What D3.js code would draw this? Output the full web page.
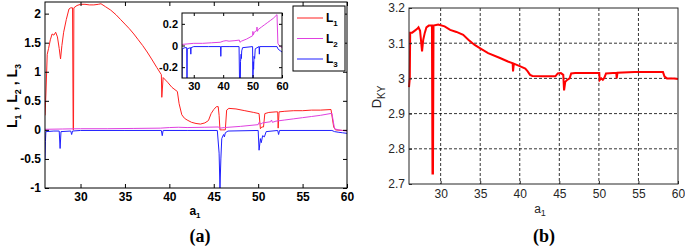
<!DOCTYPE html>
<html>
<head>
<meta charset="utf-8">
<script src="https://cdn.jsdelivr.net/npm/d3@7"></script>
<style>
  body { margin: 0; background: #fff; }
  svg { display: block; }
</style>
</head>
<body>
<svg id="chart" width="685" height="247"></svg>
<script>
// L1 (red)
const l1X = [26.0, 26.1, 26.25, 26.4, 26.6, 26.8, 27.0, 27.2, 27.4, 27.6, 27.75, 27.9, 28.1, 28.4, 28.7, 28.9, 29.1, 29.17, 29.21, 29.25, 29.6, 30.0, 30.5, 31.0, 31.5, 32.0, 32.3, 32.8, 33.4, 34.0, 34.5, 35.0, 35.5, 36.0, 36.5, 37.0, 37.5, 38.0, 38.6, 39.1, 39.15, 39.3, 39.8, 40.3, 40.9, 41.1, 41.4, 41.7, 42.0, 42.5, 43.0, 43.5, 44.0, 44.4, 44.7, 45.0, 45.3, 45.5, 45.6, 45.7, 46.0, 46.3, 46.45, 46.7, 47.5, 48.5, 49.5, 50.1, 50.25, 50.4, 50.6, 50.75, 51.2, 52.0, 52.2, 52.25, 52.35, 53.0, 54.0, 55.0, 56.0, 57.0, 58.2, 58.5, 58.7, 59.5, 60.0];
const l1Y = [0.25, 0.6, 1.3, 1.4, 1.55, 1.65, 1.63, 1.68, 1.6, 1.4, 1.22, 1.45, 1.68, 1.9, 2.08, 2.1, 2.1, 0.0, 0.0, 2.1, 2.14, 2.16, 2.16, 2.15, 2.15, 2.16, 2.17, 2.12, 2.06, 1.98, 1.9, 1.82, 1.74, 1.65, 1.55, 1.45, 1.34, 1.22, 1.07, 0.95, 0.56, 0.9, 0.82, 0.73, 0.66, 0.45, 0.26, 0.2, 0.17, 0.13, 0.11, 0.1, 0.12, 0.16, 0.28, 0.35, 0.4, 0.4, 0.25, 0.0, 0.0, 0.0, 0.34, 0.37, 0.36, 0.33, 0.3, 0.28, 0.02, 0.05, 0.05, 0.28, 0.3, 0.31, 0.31, 0.03, 0.31, 0.32, 0.33, 0.33, 0.34, 0.34, 0.35, 0.05, 0.0, -0.01, -0.01];

// L2 (magenta)
const l2X = [26.0, 28, 30, 33, 36, 39, 40, 41, 42, 44, 45.5, 45.7, 46.2, 48, 50.0, 50.1, 50.3, 50.5, 51.4, 51.5, 51.6, 52, 53, 54, 55, 56, 57, 58.3, 58.6, 59, 59.5, 60];
const l2Y = [0.01, 0.015, 0.02, 0.02, 0.025, 0.03, 0.04, 0.045, 0.04, 0.045, 0.05, 0.03, 0.04, 0.06, 0.09, 0.13, 0.1, 0.12, 0.14, 0.17, 0.13, 0.15, 0.17, 0.19, 0.21, 0.23, 0.25, 0.285, 0.02, 0.0, -0.01, -0.02];

// L3 (blue)
const l3X = [26.0, 26.05, 26.1, 27.0, 27.6, 27.7, 27.8, 28.9, 29.0, 29.1, 30, 35, 39.1, 39.2, 39.3, 42, 45.4, 45.6, 45.7, 45.8, 45.9, 46.1, 46.2, 46.3, 46.6, 50.0, 50.1, 50.25, 50.35, 50.5, 50.7, 50.9, 52.2, 52.3, 52.4, 58.3, 58.6, 59, 59.5, 60];
const l3Y = [-0.5, -0.2, -0.03, -0.02, -0.02, -0.32, -0.03, -0.02, -0.08, -0.02, -0.01, -0.01, -0.01, -0.1, -0.01, -0.01, -0.01, -0.4, -1.0, -0.5, -0.15, -0.08, -0.12, -0.05, -0.02, -0.01, -0.35, -0.15, -0.22, -0.1, -0.12, -0.03, -0.01, -0.08, -0.01, -0.01, -0.03, -0.04, -0.05, -0.06];

// D_KY (panel b)
const dkyX = [26.0, 26.1, 26.15, 26.4, 26.7, 27.0, 27.2, 27.4, 27.55, 27.65, 27.8, 28.0, 28.2, 28.5, 28.9, 28.97, 29.03, 29.1, 29.7, 30.5, 31.2, 32.0, 32.85, 33.5, 34.3, 34.95, 36, 37.5, 38.5, 39.1, 39.15, 39.25, 40.0, 40.7, 41.0, 41.3, 41.6, 43, 44.5, 44.8, 45.2, 45.5, 45.6, 45.75, 46.0, 46.3, 46.5, 47, 50.05, 50.1, 50.3, 50.5, 50.7, 50.9, 52.2, 52.25, 52.35, 54.5, 58.1, 58.3, 58.6, 59.5, 60];
const dkyY = [2.975, 3.0, 3.13, 3.13, 3.135, 3.14, 3.145, 3.135, 3.1, 3.077, 3.11, 3.13, 3.145, 3.15, 3.15, 2.73, 2.73, 3.15, 3.153, 3.148, 3.138, 3.132, 3.124, 3.11, 3.095, 3.086, 3.072, 3.058, 3.048, 3.043, 3.02, 3.042, 3.035, 3.028, 3.02, 3.01, 3.007, 3.006, 3.006, 3.014, 3.015, 3.01, 2.966, 2.99, 2.996, 3.0, 3.014, 3.015, 3.015, 2.995, 3.0, 2.996, 3.002, 3.014, 3.016, 3.0, 3.016, 3.018, 3.018, 3.005, 3.0, 3.0, 2.998];

const xTicksA = [30, 35, 40, 45, 50, 55, 60];
const yTicksA = [-1, -0.5, 0, 0.5, 1, 1.5, 2];
const xTicksInset = [30, 40, 50, 60];
const yTicksInset = [-0.2, 0, 0.2];
const yTicksB = [2.7, 2.8, 2.9, 3, 3.1, 3.2];
const legendNames = ["1", "2", "3"];

const svg = d3.select("#chart");
const sans = "Liberation Sans, Arial, sans-serif";
const plain = d => String(d);

function zip(xs, ys) { return xs.map((x, i) => [x, ys[i]]); }

// text with subscripts: parts = [[text, isSub], ...]
function subText(t, parts, subSize, drop) {
  let down = false;
  parts.forEach(p => {
    const ts = t.append("tspan").text(p[0]);
    if (p[1] && !down) { ts.attr("dy", drop); down = true; }
    else if (!p[1] && down) { ts.attr("dy", -drop); down = false; }
    if (p[1]) ts.attr("font-size", subSize);
  });
}

// ---------------- PANEL A ----------------
const xA = d3.scaleLinear().domain([26, 60]).range([45, 347]);
const yA = d3.scaleLinear().domain([-1, 2.2]).range([188, 2]);

const defs = svg.append("defs");
defs.append("clipPath").attr("id", "clipA")
  .append("rect").attr("x", 45).attr("y", 2).attr("width", 302).attr("height", 186);

const gA = svg.append("g");
const lineA = d3.line().x(d => xA(d[0])).y(d => yA(d[1]));
const seriesA = [[l1X, l1Y, "#ff2020"], [l2X, l2Y, "#e040e0"], [l3X, l3Y, "#1f1fff"]];
seriesA.forEach(s => {
  gA.append("path").attr("clip-path", "url(#clipA)")
    .attr("d", lineA(zip(s[0], s[1])))
    .attr("fill", "none").attr("stroke", s[2]).attr("stroke-width", 1);
});

function styleAxis(g, fs) {
  g.select(".domain").remove();
  g.selectAll("line").attr("stroke", "#000");
  g.selectAll("text").attr("font-family", sans).attr("font-size", fs)
    .attr("font-weight", "bold").attr("fill", "#000");
}

gA.append("g").attr("transform", "translate(0,188)")
  .call(d3.axisBottom(xA).tickValues(xTicksA).tickSize(-4).tickPadding(4).tickFormat(plain))
  .call(g => styleAxis(g, 12));
gA.append("g").attr("transform", "translate(0,2)")
  .call(d3.axisTop(xA).tickValues(xTicksA).tickSize(-4).tickFormat(""))
  .call(g => styleAxis(g, 12));
gA.append("g").attr("transform", "translate(45,0)")
  .call(d3.axisLeft(yA).tickValues(yTicksA).tickSize(-4).tickPadding(4).tickFormat(plain))
  .call(g => styleAxis(g, 12));
gA.append("g").attr("transform", "translate(347,0)")
  .call(d3.axisRight(yA).tickValues(yTicksA).tickSize(-4).tickFormat(""))
  .call(g => styleAxis(g, 12));
gA.append("rect").attr("x", 45).attr("y", 2).attr("width", 302).attr("height", 186)
  .attr("fill", "none").attr("stroke", "#000");

// inset
const xI = d3.scaleLinear().domain([26, 60]).range([182, 282]);
const yI = d3.scaleLinear().domain([-0.3, 0.3]).range([78, 13]);
defs.append("clipPath").attr("id", "clipI")
  .append("rect").attr("x", 182).attr("y", 13).attr("width", 100).attr("height", 65);
const gI = svg.append("g");
gI.append("rect").attr("x", 182).attr("y", 13).attr("width", 100).attr("height", 65).attr("fill", "#fff");
const lineI = d3.line().x(d => xI(d[0])).y(d => yI(d[1]));
seriesA.slice(1).forEach(s => {
  gI.append("path").attr("clip-path", "url(#clipI)")
    .attr("d", lineI(zip(s[0], s[1])))
    .attr("fill", "none").attr("stroke", s[2]).attr("stroke-width", 1);
});
gI.append("g").attr("transform", "translate(0,78)")
  .call(d3.axisBottom(xI).tickValues(xTicksInset).tickSize(-3).tickPadding(4).tickFormat(plain))
  .call(g => styleAxis(g, 11));
gI.append("g").attr("transform", "translate(0,13)")
  .call(d3.axisTop(xI).tickValues(xTicksInset).tickSize(-3).tickFormat(""))
  .call(g => styleAxis(g, 11));
gI.append("g").attr("transform", "translate(182,0)")
  .call(d3.axisLeft(yI).tickValues(yTicksInset).tickSize(-3).tickPadding(4).tickFormat(plain))
  .call(g => styleAxis(g, 11));
gI.append("g").attr("transform", "translate(282,0)")
  .call(d3.axisRight(yI).tickValues(yTicksInset).tickSize(-3).tickFormat(""))
  .call(g => styleAxis(g, 11));
gI.append("rect").attr("x", 182).attr("y", 13).attr("width", 100).attr("height", 65)
  .attr("fill", "none").attr("stroke", "#000");

// legend
const leg = svg.append("g");
leg.append("rect").attr("x", 293).attr("y", 6).attr("width", 52).attr("height", 65)
  .attr("fill", "#fff").attr("stroke", "#000");
const legY = d3.scalePoint().domain(legendNames).range([18, 59]);
legendNames.forEach((n, i) => {
  leg.append("line").attr("x1", 297).attr("x2", 323)
    .attr("y1", legY(n)).attr("y2", legY(n)).attr("stroke", seriesA[i][2]);
  const t = leg.append("text").attr("x", 326).attr("y", legY(n) + 4)
    .attr("font-family", sans).attr("font-weight", "bold").attr("font-size", 12);
  subText(t, [["L", false], [n, true]], 8, 4);
});

// labels A
const ylabA = svg.append("text").attr("transform", "translate(17,96) rotate(-90)")
  .attr("text-anchor", "middle").attr("font-family", sans).attr("font-weight", "bold").attr("font-size", 14);
subText(ylabA, [["L", false], ["1", true], [" , L", false], ["2", true], [" , L", false], ["3", true]], 9, 4);
const xlabA = svg.append("text").attr("x", 195).attr("y", 215).attr("text-anchor", "middle")
  .attr("font-family", sans).attr("font-weight", "bold").attr("font-size", 12);
subText(xlabA, [["a", false], ["1", true]], 8, 3);
svg.append("text").attr("x", 200).attr("y", 242).attr("text-anchor", "middle")
  .attr("font-family", "Liberation Serif, Times New Roman, serif").attr("font-weight", "bold")
  .attr("font-size", 18).text("(a)");

// ---------------- PANEL B ----------------
const xB = d3.scaleLinear().domain([26, 60]).range([409, 678]);
const yB = d3.scaleLinear().domain([2.7, 3.2]).range([184, 8]);
const gB = svg.append("g");
const frameCol = "#262626";

// grid
gB.append("g").selectAll("line").data(xTicksA.filter(v => v < 60)).join("line")
  .attr("x1", d => xB(d)).attr("x2", d => xB(d)).attr("y1", 8).attr("y2", 184)
  .attr("stroke", "#000").attr("stroke-dasharray", "3,2").attr("stroke-width", 0.8);
gB.append("g").selectAll("line").data(yTicksB.filter(v => v > 2.7 && v < 3.2)).join("line")
  .attr("y1", d => yB(d)).attr("y2", d => yB(d)).attr("x1", 409).attr("x2", 678)
  .attr("stroke", "#000").attr("stroke-dasharray", "3,2").attr("stroke-width", 0.8);

const lineB = d3.line().x(d => xB(d[0])).y(d => yB(d[1]));
gB.append("path").attr("d", lineB(zip(dkyX, dkyY)))
  .attr("fill", "none").attr("stroke", "#ff0000").attr("stroke-width", 2);

function styleB(g) {
  g.select(".domain").remove();
  g.selectAll("line").attr("stroke", frameCol);
  g.selectAll("text").attr("font-family", sans).attr("font-size", 12).attr("fill", frameCol);
}
gB.append("g").attr("transform", "translate(0,184)")
  .call(d3.axisBottom(xB).tickValues(xTicksA).tickSize(-3).tickPadding(5).tickFormat(plain))
  .call(styleB);
gB.append("g").attr("transform", "translate(409,0)")
  .call(d3.axisLeft(yB).tickValues(yTicksB).tickSize(-3).tickPadding(4).tickFormat(plain))
  .call(styleB);
gB.append("rect").attr("x", 409).attr("y", 8).attr("width", 269).attr("height", 176)
  .attr("fill", "none").attr("stroke", frameCol);

const ylabB = svg.append("text").attr("transform", "translate(381,97) rotate(-90)")
  .attr("text-anchor", "middle").attr("font-family", sans).attr("font-size", 13).attr("fill", frameCol);
subText(ylabB, [["D", false], ["KY", true]], 10, 4);
const xlabB = svg.append("text").attr("x", 540).attr("y", 213).attr("text-anchor", "middle")
  .attr("font-family", sans).attr("font-size", 12).attr("fill", frameCol);
subText(xlabB, [["a", false], ["1", true]], 9, 3);
svg.append("text").attr("x", 544).attr("y", 242).attr("text-anchor", "middle")
  .attr("font-family", "Liberation Serif, Times New Roman, serif").attr("font-weight", "bold")
  .attr("font-size", 18).text("(b)");
</script>
</body>
</html>
